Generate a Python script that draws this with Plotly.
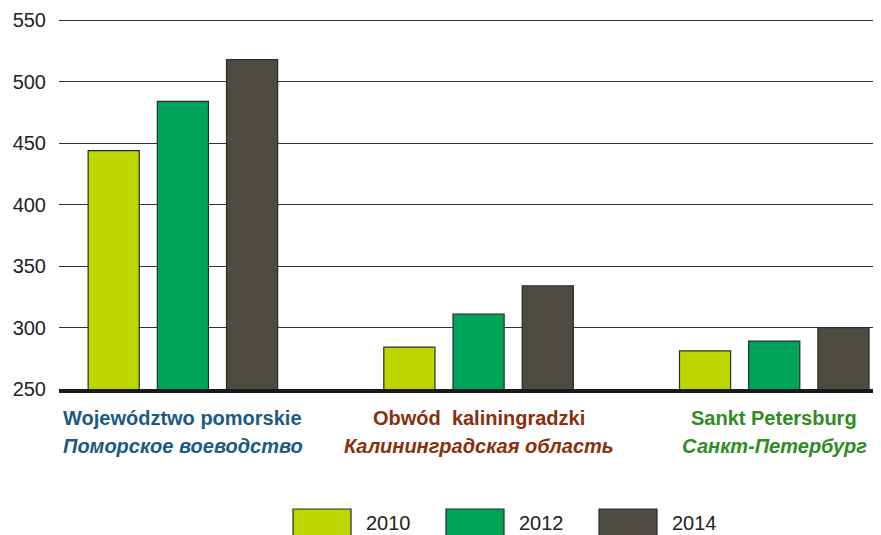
import plotly.graph_objects as go

# ---- data ----
regions_line1 = ["Województwo pomorskie", "Obwód\u00a0 kaliningradzki", "Sankt Petersburg"]
regions_line2 = ["Поморское воеводство", "Калининградская область", "Санкт-Петербург"]
region_colors = ["#1a5a86", "#8a2f0c", "#2f8c1f"]

years = ["2010", "2012", "2014"]
values_2010 = [444, 284, 281]
values_2012 = [484, 311, 289]
values_2014 = [518, 334, 300]
series_values = [values_2010, values_2012, values_2014]
series_colors = ["#bed600", "#00a459", "#4e4b43"]

y_ticks = [250, 300, 350, 400, 450, 500, 550]

# page has an 8px body margin; figure coords = window coords - 8
OFF = 8
W, H = 881, 535
PLOT_L, PLOT_R, PLOT_T, PLOT_B = 59 - OFF, 881 - OFF, 19 - OFF, 389 - OFF
ML, MR, MT, MB = PLOT_L, W - PLOT_R, PLOT_T, H - PLOT_B
PW, PH = PLOT_R - PLOT_L, PLOT_B - PLOT_T

FONT = "Liberation Sans, Arial, sans-serif"


def py(win_y):
    return (389 - win_y) / PH


def px(win_x):
    return (win_x - 59) / PW


fig = go.Figure()
xs = list(range(len(regions_line1)))
for name, vals, col in zip(years, series_values, series_colors):
    fig.add_trace(go.Bar(
        x=xs, y=vals, name=name, showlegend=False,
        marker=dict(color=col, line=dict(color="#2a2a2a", width=1.2)),
    ))

annotations = []
for i, (l1, l2, c) in enumerate(zip(regions_line1, regions_line2, region_colors)):
    annotations.append(dict(x=i, y=py(418), xref="x", yref="paper", text="<b>%s</b>" % l1,
                            showarrow=False, font=dict(family=FONT, size=20, color=c), yanchor="middle"))
    annotations.append(dict(x=i, y=py(446), xref="x", yref="paper", text="<b><i>%s</i></b>" % l2,
                            showarrow=False, font=dict(family=FONT, size=20, color=c), yanchor="middle"))

# legend built from the series lists
shapes = []
leg_box_left = [293, 446, 599]
for name, col, bx in zip(years, series_colors, leg_box_left):
    shapes.append(dict(type="rect", xref="paper", yref="paper",
                       x0=px(bx), x1=px(bx + 58), y0=py(545), y1=py(509),
                       fillcolor=col, line=dict(color="#2a2a2a", width=1.2)))
    annotations.append(dict(x=px(bx + 72), y=py(523), xref="paper", yref="paper",
                            text=name, showarrow=False, xanchor="left", yanchor="middle",
                            borderpad=0,
                            font=dict(family=FONT, size=20, color="#222222")))

fig.update_layout(
    width=W, height=H,
    margin=dict(l=ML, r=MR, t=MT, b=MB, pad=0, autoexpand=False),
    paper_bgcolor="white", plot_bgcolor="white",
    barmode="group", bargap=0.298, bargroupgap=0.261,
    showlegend=False,
    annotations=annotations, shapes=shapes,
    xaxis=dict(range=[-0.419, 2.361], showticklabels=False, showgrid=False, zeroline=False,
               showline=True, linecolor="#1a1a1a", linewidth=4, ticks="", automargin=False),
    yaxis=dict(range=[250, 551], tickvals=y_ticks, showgrid=True, gridcolor="#333333", gridwidth=1.2,
               zeroline=False, showline=False, ticks="", ticklabelstandoff=12, automargin=False,
               tickfont=dict(family=FONT, size=20, color="#222222")),
)

fig.write_html("out.html")
